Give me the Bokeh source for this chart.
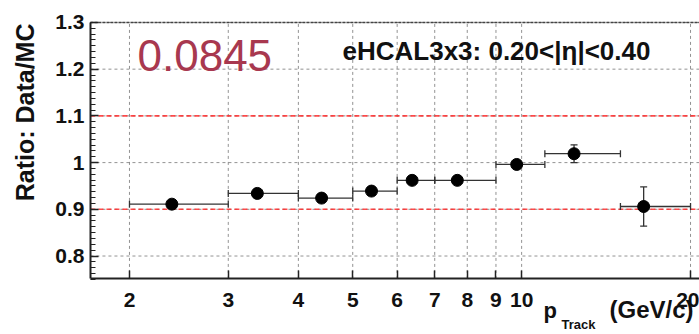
import numpy as np
from bokeh.plotting import figure
from bokeh.models import (ColumnDataSource, Range1d, FixedTicker, Label,
                          BasicTickFormatter, LinearAxis, LogAxis)
from bokeh.embed import file_html
from bokeh.resources import INLINE

# Data/MC ratio per track-momentum bin
p_center = [2.38, 3.38, 4.40, 5.40, 6.38, 7.68, 9.80, 12.4, 16.5]
p_low = [2, 3, 4, 5, 6, 7, 9, 11, 15]
p_high = [3, 4, 5, 6, 7, 9, 11, 15, 20]
ratio = [0.911, 0.934, 0.924, 0.939, 0.962, 0.962, 0.996, 1.019, 0.906]
ratio_err = [0.004, 0.004, 0.004, 0.004, 0.004, 0.004, 0.005, 0.019, 0.042]

x_ticks = [2, 3, 4, 5, 6, 7, 8, 9, 10, 20]
y_ticks = [0.8, 0.9, 1.0, 1.1, 1.2, 1.3]
band_lines = [0.9, 1.1]

sigma_text = "0.0845"
panel_title = "eHCAL3x3: 0.20<|η|<0.40"

# visible plot box (data coordinates); the canvas around it holds the labels
X0, X1 = 1.704, 20.75
Y0, Y1 = 0.751, 1.3

src = ColumnDataSource(dict(
    x=p_center, lo=p_low, hi=p_high, y=ratio,
    ylo=[r - e for r, e in zip(ratio, ratio_err)],
    yhi=[r + e for r, e in zip(ratio, ratio_err)],
))

FONT = "Liberation Sans"
INK = "#111111"

p = figure(width=699, height=334, x_axis_type="log",
           x_range=Range1d(1.178, X1), y_range=Range1d(0.632, 1.347),
           x_axis_location=None, y_axis_location=None,
           output_backend="svg", toolbar_location=None, min_border=0)
p.outline_line_color = None
p.xgrid.visible = False
p.ygrid.visible = False
p.background_fill_color = "white"
p.border_fill_color = "white"

# axes pinned to the edges of the plot box
yax = LinearAxis(fixed_location=X0, bounds=(Y0, Y1),
                 ticker=FixedTicker(ticks=y_ticks,
                                    minor_ticks=list(np.arange(0.75, 1.3001, 0.0125))))
yax.major_label_overrides = {1.0: "1"}
yax.minor_tick_in = 5
yax.minor_tick_out = 0
yax.minor_tick_line_color = "#222222"
yax.major_label_standoff = 6

xax = LogAxis(fixed_location=Y0, bounds=(X0, X1),
              ticker=FixedTicker(ticks=x_ticks, minor_ticks=[]),
              formatter=BasicTickFormatter())
xax.major_label_standoff = 14

for ax in (xax, yax):
    ax.axis_line_color = "#222222"
    ax.axis_line_width = 2
    ax.major_tick_in = 8
    ax.major_tick_out = 0
    ax.major_tick_line_color = "#222222"
    ax.major_tick_line_width = 1.5
    ax.major_label_text_font = FONT
    ax.major_label_text_font_style = "bold"
    ax.major_label_text_font_size = "21px"
    ax.major_label_text_color = INK
p.add_layout(yax, "left")
p.add_layout(xax, "below")

# dotted grid inside the plot box
grid_kw = dict(line_color="#777777", line_dash="3 3", line_width=1, line_alpha=0.8)
p.segment(x0=x_ticks, x1=x_ticks, y0=[Y0] * len(x_ticks), y1=[Y1] * len(x_ticks), **grid_kw)
p.segment(x0=[X0] * len(y_ticks), x1=[X1] * len(y_ticks), y0=y_ticks, y1=y_ticks, **grid_kw)

# dashed top border of the box
p.segment(x0=[X0], x1=[X1], y0=[Y1], y1=[Y1], line_color="#444444",
          line_dash="3 1", line_width=1.5)

# +/-10% reference lines
p.segment(x0=[X0] * len(band_lines), x1=[X1] * len(band_lines),
          y0=band_lines, y1=band_lines, line_color="#ff2a2a",
          line_dash="5 3", line_width=1.6, line_alpha=0.85)

# error bars with end caps
bar_col = "#333333"
p.segment(x0="lo", x1="hi", y0="y", y1="y", source=src,
          line_color=bar_col, line_width=1.3)
p.segment(x0="x", x1="x", y0="ylo", y1="yhi", source=src,
          line_color=bar_col, line_width=1.3)
for xc in ("lo", "hi"):
    p.scatter(x=xc, y="y", source=src, marker="dash", angle=np.pi / 2,
              size=7, line_color=bar_col, line_width=1.3)
for yc in ("ylo", "yhi"):
    p.scatter(x="x", y=yc, source=src, marker="dash", size=7,
              line_color=bar_col, line_width=1.3)
p.scatter(x="x", y="y", source=src, size=12, fill_color="black",
          line_color="black")


def add_text(text, x, y, size, **kw):
    # x, y in canvas pixels measured from the bottom-left corner
    opts = dict(text_font=FONT, text_font_size=f"{size}px", text_color=INK,
                text_font_style="bold", text_baseline="alphabetic")
    opts.update(kw)
    p.add_layout(Label(x=x, y=y, x_units="screen", y_units="screen",
                       text=text, **opts))


H = 334
add_text(sigma_text, 137, H - 72 + 17, 44, text_font_style="normal",
         text_color="#a8384f")
add_text(panel_title, 342, H - 60 + 10, 26)
add_text("Ratio: Data/MC", 33 - 9, H - 23, 25, angle=np.pi / 2,
         text_align="right")
add_text("p", 543, H - 318 + 8, 22)
add_text("Track", 561, H - 329 + 5, 13)
add_text("(GeV/c)", 609, H - 318 + 9, 24)

open("out.html", "w").write(file_html(p, INLINE))
